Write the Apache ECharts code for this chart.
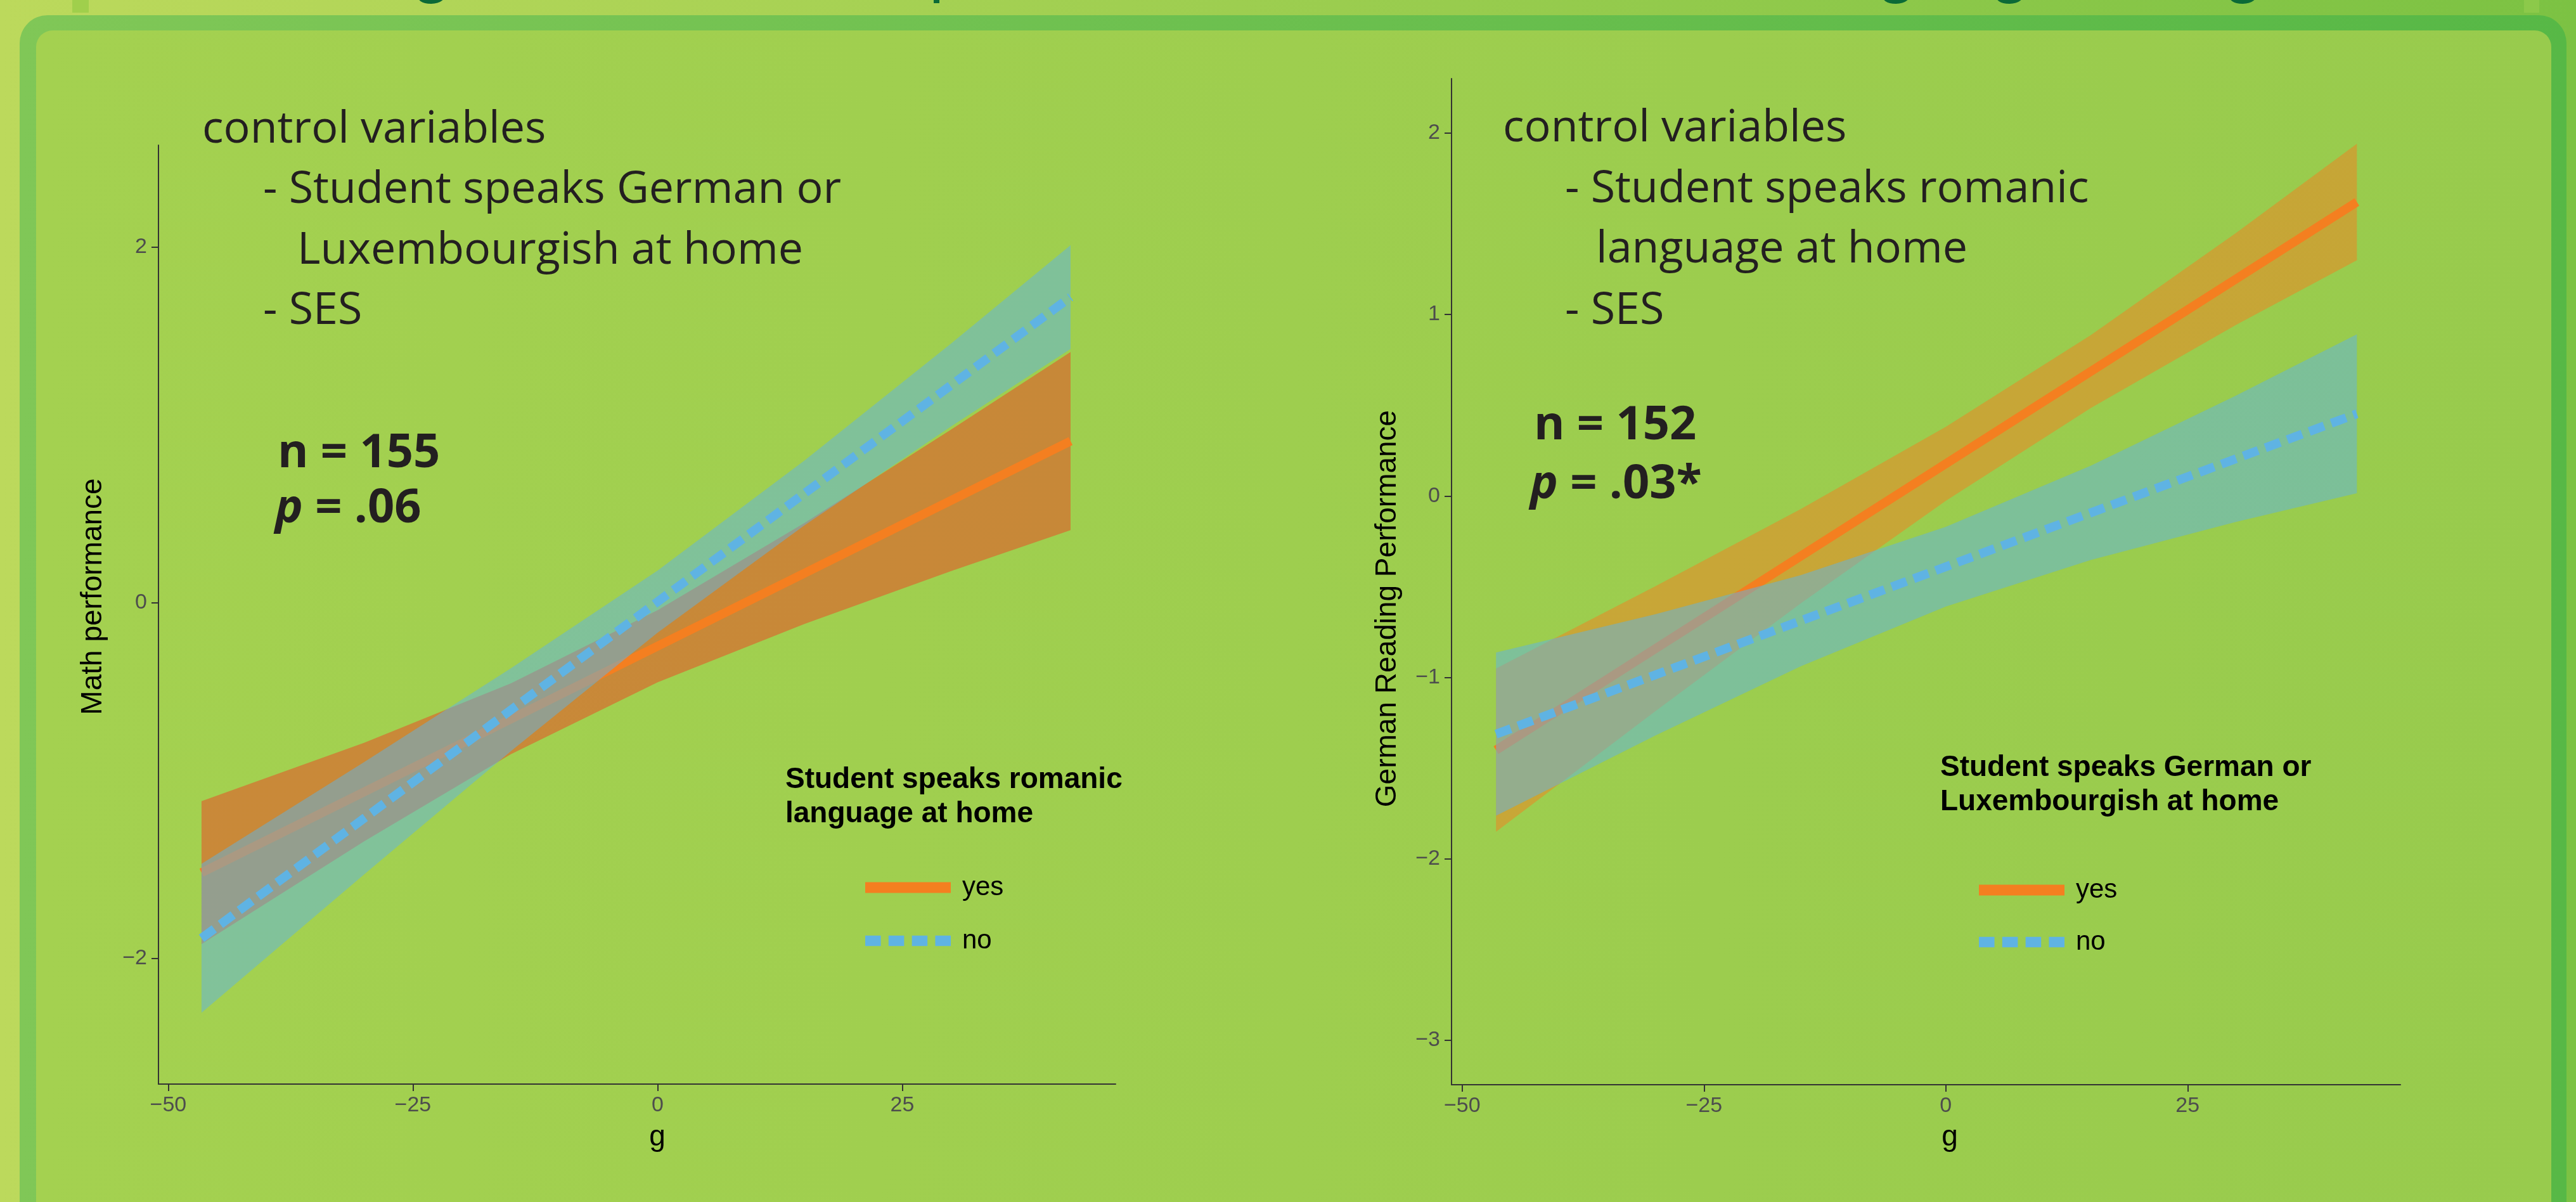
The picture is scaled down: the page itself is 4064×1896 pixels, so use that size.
<!DOCTYPE html>
<html>
<head>
<meta charset="utf-8">
<title>g by home language</title>
<script src="https://cdn.jsdelivr.net/npm/echarts@6/dist/echarts.min.js"></script>
<style>
  html, body { margin: 0; padding: 0; }
  #main { width: 4064px; height: 1896px; }
</style>
</head>
<body>
<div id="main"></div>
<script>
// ---- values ----
// left panel: Math performance ~ g, by "Student speaks romanic language at home"
var mathX = [-46.6, -30, -15, 0, 15, 30, 42.2];
var mathYesLo = [-1.919, -1.341, -0.851, -0.447, -0.119, 0.179, 0.409];
var mathYesHi = [-1.115, -0.787, -0.453, -0.041, 0.449, 0.975, 1.411];
var mathNoLo = [-2.305, -1.528, -0.834, -0.168, 0.436, 0.993, 1.428];
var mathNoHi = [-1.467, -0.896, -0.368, 0.182, 0.800, 1.459, 2.012];
var mathLineX = [-46.6, 42.2];
var mathYesLine = [-1.517, 0.910];
var mathNoLine = [-1.886, 1.720];

// right panel: German Reading Performance ~ g, by "Student speaks German or Luxembourgish at home"
var readX = [-46.5, -30, -15, 0, 15, 30, 42.5];
var readYesLo = [-1.851, -1.185, -0.592, -0.027, 0.485, 0.943, 1.299];
var readYesHi = [-0.951, -0.497, -0.072, 0.381, 0.887, 1.449, 1.941];
var readNoLo = [-1.763, -1.320, -0.939, -0.610, -0.353, -0.143, 0.015];
var readNoHi = [-0.863, -0.652, -0.437, -0.170, 0.167, 0.553, 0.891];
var readLineX = [-46.5, 42.5];
var readYesLine = [-1.401, 1.620];
var readNoLine = [-1.313, 0.453];

var xTicks = [-50, -25, 0, 25];
var mathYTicks = [-2, 0, 2];
var readYTicks = [-3, -2, -1, 0, 1, 2];
var groups = ['yes', 'no'];

var AXIS = '#333333';
var ORANGE = '#f47f20';
var BLUE = '#5fb3e3';
var INK = '#231f20';
var NOTE_FONT = '"Open Sans", "Noto Sans", sans-serif';
var PLOT_FONT = '"Liberation Sans", Arial, sans-serif';
// four squares, same look as the dashed key in the reference legend
var DASH_KEY = 'path://M0,0h25v17h-25z M37.5,0h25v17h-25z M75,0h25v17h-25z M112.5,0h25v17h-25z';

var chart = echarts.init(document.getElementById('main'), null, { renderer: 'canvas' });

function fmtTick(v) {
    return v < 0 ? '\u2212' + Math.abs(v) : String(v);
}

function xAxisOpt(gridIndex, min, max) {
    return {
        type: 'value', gridIndex: gridIndex, min: min, max: max,
        axisLine: { show: true, onZero: false, lineStyle: { color: AXIS, width: 2 } },
        axisTick: { show: true, length: 11, customValues: xTicks, lineStyle: { color: AXIS, width: 2 } },
        axisLabel: { customValues: xTicks, formatter: fmtTick, color: '#4d4d4d', fontSize: 34, fontFamily: PLOT_FONT, margin: 17 },
        splitLine: { show: false }
    };
}

function yAxisOpt(gridIndex, min, max, ticks) {
    return {
        type: 'value', gridIndex: gridIndex, min: min, max: max,
        axisLine: { show: true, onZero: false, lineStyle: { color: AXIS, width: 2 } },
        axisTick: { show: true, length: 11, customValues: ticks, lineStyle: { color: AXIS, width: 2 } },
        axisLabel: { customValues: ticks, formatter: fmtTick, color: '#4d4d4d', fontSize: 34, fontFamily: PLOT_FONT, margin: 18 },
        splitLine: { show: false }
    };
}

// confidence ribbon as one polygon: upper edge left->right, lower edge back
function band(name, idx, xs, lo, hi, fill, z) {
    return {
        type: 'custom', name: name, xAxisIndex: idx, yAxisIndex: idx, silent: true, z: z,
        data: xs.map(function (x, i) { return [x, lo[i], hi[i]]; }),
        renderItem: function (params, api) {
            if (params.dataIndex !== 0) return;
            var pts = [];
            for (var i = 0; i < xs.length; i++) pts.push(api.coord([xs[i], hi[i]]));
            for (var j = xs.length - 1; j >= 0; j--) pts.push(api.coord([xs[j], lo[j]]));
            return { type: 'polygon', shape: { points: pts }, style: { fill: fill } };
        }
    };
}

function fit(name, idx, xs, ys, color, dashed, z) {
    return {
        type: 'line', name: name, xAxisIndex: idx, yAxisIndex: idx, z: z,
        data: xs.map(function (x, i) { return [x, ys[i]]; }),
        symbol: 'none', silent: true,
        lineStyle: { color: color, width: 14, type: dashed ? [25, 12] : 'solid', cap: 'butt' },
        itemStyle: { color: color }
    };
}

function note(x, y, text, size, bold) {
    return {
        type: 'text', x: x, y: y, z: 10,
        style: {
            text: text, fill: INK, fontSize: size, fontFamily: NOTE_FONT,
            fontWeight: bold ? 'bold' : 'normal', align: 'left', verticalAlign: 'middle',
            rich: { i: { fontStyle: 'italic', fontWeight: 'bold', fontSize: size, fontFamily: NOTE_FONT, fill: INK } }
        }
    };
}

function plotText(x, y, text, opts) {
    opts = opts || {};
    return {
        type: 'text', x: x, y: y, z: 10, rotation: opts.rotation || 0,
        style: {
            text: text, fill: '#000', fontSize: opts.size || 46, fontFamily: PLOT_FONT,
            fontWeight: opts.bold ? 'bold' : 'normal', lineHeight: opts.lineHeight,
            align: opts.align || 'center', verticalAlign: 'middle'
        }
    };
}

function legendOpt(left, top, gap) {
    return {
        data: [{ name: groups[0], icon: 'rect' }, { name: groups[1], icon: DASH_KEY }],
        orient: 'vertical', left: left, top: top,
        itemWidth: 135, itemHeight: 17, itemGap: gap, selectedMode: false,
        textStyle: { fontSize: 42, fontFamily: PLOT_FONT, color: '#000', padding: [0, 0, 0, 13] }
    };
}

var hGrad = function (a, b) {
    return { type: 'linear', x: 0, y: 0, x2: 1, y2: 0, colorStops: [{ offset: 0, color: a }, { offset: 1, color: b }] };
};

var graphics = [
    // poster frame
    { type: 'rect', z: -10, shape: { x: 114, y: 0, width: 26, height: 20 }, style: { fill: '#a0cf4c' } },
    { type: 'rect', z: -10, shape: { x: 3982, y: 0, width: 24, height: 20 }, style: { fill: '#8cc94a' } },
    { type: 'rect', z: -9, shape: { x: 31, y: 24, width: 4018, height: 1960, r: [44, 44, 0, 0] }, style: { fill: hGrad('#80c757', '#57b846') } },
    { type: 'rect', z: -8, shape: { x: 57, y: 48, width: 3968, height: 1900, r: [26, 26, 0, 0] }, style: { fill: hGrad('#a4d150', '#98cb4d') } },

    // left panel notes
    note(319, 205, 'control variables', 70),
    note(415, 300, '- Student speaks German or', 70),
    note(469, 396, 'Luxembourgish at home', 70),
    note(415, 491, '- SES', 70),
    note(438, 716, 'n = 155', 74, true),
    note(434, 803, '{i|p} = .06', 74, true),

    // right panel notes
    note(2371, 203, 'control variables', 70),
    note(2469, 299, '- Student speaks romanic', 70),
    note(2518, 394, 'language at home', 70),
    note(2469, 491, '- SES', 70),
    note(2420, 672, 'n = 152', 74, true),
    note(2414, 765, '{i|p} = .03*', 74, true),

    // axis titles
    plotText(147, 941, 'Math performance', { rotation: Math.PI / 2 }),
    plotText(1037, 1794, 'g'),
    plotText(2189, 960, 'German Reading Performance', { rotation: Math.PI / 2 }),
    plotText(3076, 1794, 'g'),

    // legend titles
    plotText(1239, 1257, 'Student speaks romanic\nlanguage at home', { bold: true, align: 'left', lineHeight: 54 }),
    plotText(3061, 1238, 'Student speaks German or\nLuxembourgish at home', { bold: true, align: 'left', lineHeight: 54 })
];

// the poster title above is cut off by the page edge: only descenders show
[[681, 'g'], [1466, 'p'], [2992, 'g'], [3171, 'g'], [3539, 'g']].forEach(function (d) {
    graphics.push({
        type: 'text', x: d[0], y: -44, z: -10,
        style: { text: d[1], fill: '#0b6a37', fontSize: 100, fontFamily: 'Lato, sans-serif', align: d[1] === 'p' ? 'left' : 'center', verticalAlign: 'middle' }
    });
});

var option = {
    animation: false,
    backgroundColor: hGrad('#bcd95c', '#7cc243'),
    grid: [
        { left: 250, top: 229, width: 1510, height: 1481 },
        { left: 2290, top: 124, width: 1497, height: 1587 }
    ],
    xAxis: [xAxisOpt(0, -51, 46.8), xAxisOpt(1, -51.1, 47.0)],
    yAxis: [yAxisOpt(0, -2.706, 2.574, mathYTicks), yAxisOpt(1, -3.245, 2.30, readYTicks)],
    legend: [legendOpt(1360, 1374, 42), legendOpt(3117, 1378, 40)],
    series: [
        band('yes band', 0, mathX, mathYesLo, mathYesHi, 'rgba(240,66,34,0.5)', 1),
        fit('yes', 0, mathLineX, mathYesLine, ORANGE, false, 2),
        band('no band', 0, mathX, mathNoLo, mathNoHi, 'rgba(95,179,227,0.5)', 3),
        fit('no', 0, mathLineX, mathNoLine, BLUE, true, 4),

        band('yes band', 1, readX, readYesLo, readYesHi, 'rgba(244,128,32,0.5)', 1),
        fit('yes', 1, readLineX, readYesLine, ORANGE, false, 2),
        band('no band', 1, readX, readNoLo, readNoHi, 'rgba(95,179,227,0.5)', 3),
        fit('no', 1, readLineX, readNoLine, BLUE, true, 4)
    ],
    graphic: { elements: graphics }
};

chart.setOption(option);
</script>
</body>
</html>
